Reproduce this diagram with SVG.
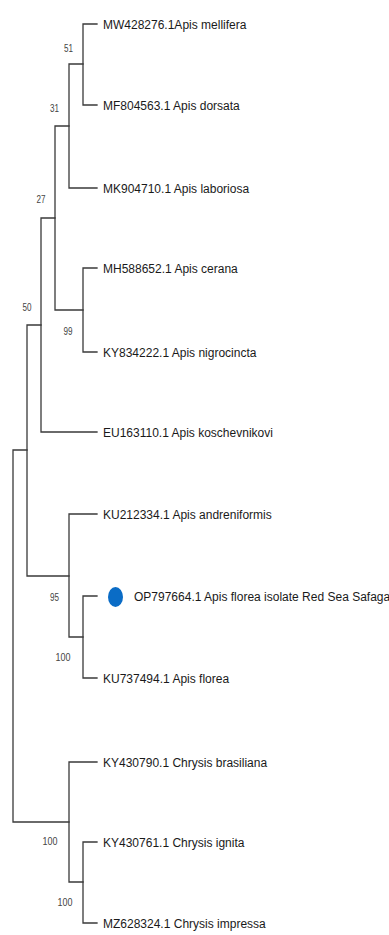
<svg xmlns="http://www.w3.org/2000/svg" width="389" height="935" viewBox="0 0 389 935">
<style>
.br{fill:none;stroke:#3a3a3a;stroke-width:1.3;stroke-linecap:square}
.tip{font-family:"Liberation Sans",Arial,sans-serif;font-size:12px;fill:#1a1a1a}
.bs{font-family:"Liberation Sans Narrow","Liberation Sans",Arial,sans-serif;font-size:10.5px;fill:#444;text-anchor:middle}
</style>
<rect width="389" height="935" fill="#fff"/>
<g id="connectors" class="br">
<path d="M83,24 V105 M83,24 H97 M83,105 H97"/>
<path d="M69,64 V188 M69,64 H83 M69,188 H97"/>
<path d="M83,268 V352 M83,268 H97 M83,352 H97"/>
<path d="M55,126 V310 M55,126 H69 M55,310 H83"/>
<path d="M41,218 V432 M41,218 H55 M41,432 H97"/>
<path d="M83,596 V678 M83,596 H97 M83,678 H97"/>
<path d="M69,514 V637 M69,514 H97 M69,637 H83"/>
<path d="M27,325 V576 M27,325 H41 M27,576 H69"/>
<path d="M83,842 V923 M83,842 H97 M83,923 H97"/>
<path d="M69,762 V882 M69,762 H97 M69,882 H83"/>
<path d="M13,450 V822 M13,450 H27 M13,822 H69"/>
</g>
<g id="tip-MW428276"><text class="tip" x="103" y="28.5">MW428276.1Apis mellifera</text></g>
<g id="tip-MF804563"><text class="tip" x="103" y="109.5">MF804563.1 Apis dorsata</text></g>
<g id="tip-MK904710"><text class="tip" x="103" y="192.5">MK904710.1 Apis laboriosa</text></g>
<g id="tip-MH588652"><text class="tip" x="103" y="272.5">MH588652.1 Apis cerana</text></g>
<g id="tip-KY834222"><text class="tip" x="103" y="356.5">KY834222.1 Apis nigrocincta</text></g>
<g id="tip-EU163110"><text class="tip" x="103" y="436.5">EU163110.1 Apis koschevnikovi</text></g>
<g id="tip-KU212334"><text class="tip" x="103" y="518.5">KU212334.1 Apis andreniformis</text></g>
<g id="tip-OP797664"><ellipse cx="115.5" cy="597" rx="7.5" ry="10" fill="#0a6cc6"/><text class="tip" x="134" y="600.5">OP797664.1 Apis florea isolate Red Sea Safaga</text></g>
<g id="tip-KU737494"><text class="tip" x="103" y="682.5">KU737494.1 Apis florea</text></g>
<g id="tip-KY430790"><text class="tip" x="103" y="766.5">KY430790.1 Chrysis brasiliana</text></g>
<g id="tip-KY430761"><text class="tip" x="103" y="846.5">KY430761.1 Chrysis ignita</text></g>
<g id="tip-MZ628324"><text class="tip" x="103" y="927.5">MZ628324.1 Chrysis impressa</text></g>
<g id="node-51"><text class="bs" x="68.5" y="51.5" textLength="9" lengthAdjust="spacingAndGlyphs">51</text></g>
<g id="node-31"><text class="bs" x="54.5" y="111.5" textLength="9" lengthAdjust="spacingAndGlyphs">31</text></g>
<g id="node-27"><text class="bs" x="41" y="202.5" textLength="9" lengthAdjust="spacingAndGlyphs">27</text></g>
<g id="node-50"><text class="bs" x="27" y="310.5" textLength="9" lengthAdjust="spacingAndGlyphs">50</text></g>
<g id="node-99"><text class="bs" x="68" y="334.5" textLength="9" lengthAdjust="spacingAndGlyphs">99</text></g>
<g id="node-95"><text class="bs" x="54.5" y="600.5" textLength="9" lengthAdjust="spacingAndGlyphs">95</text></g>
<g id="node-100a"><text class="bs" x="63" y="660.5" textLength="15" lengthAdjust="spacingAndGlyphs">100</text></g>
<g id="node-100b"><text class="bs" x="50" y="844.5" textLength="15" lengthAdjust="spacingAndGlyphs">100</text></g>
<g id="node-100c"><text class="bs" x="65" y="905.5" textLength="15" lengthAdjust="spacingAndGlyphs">100</text></g>
</svg>
